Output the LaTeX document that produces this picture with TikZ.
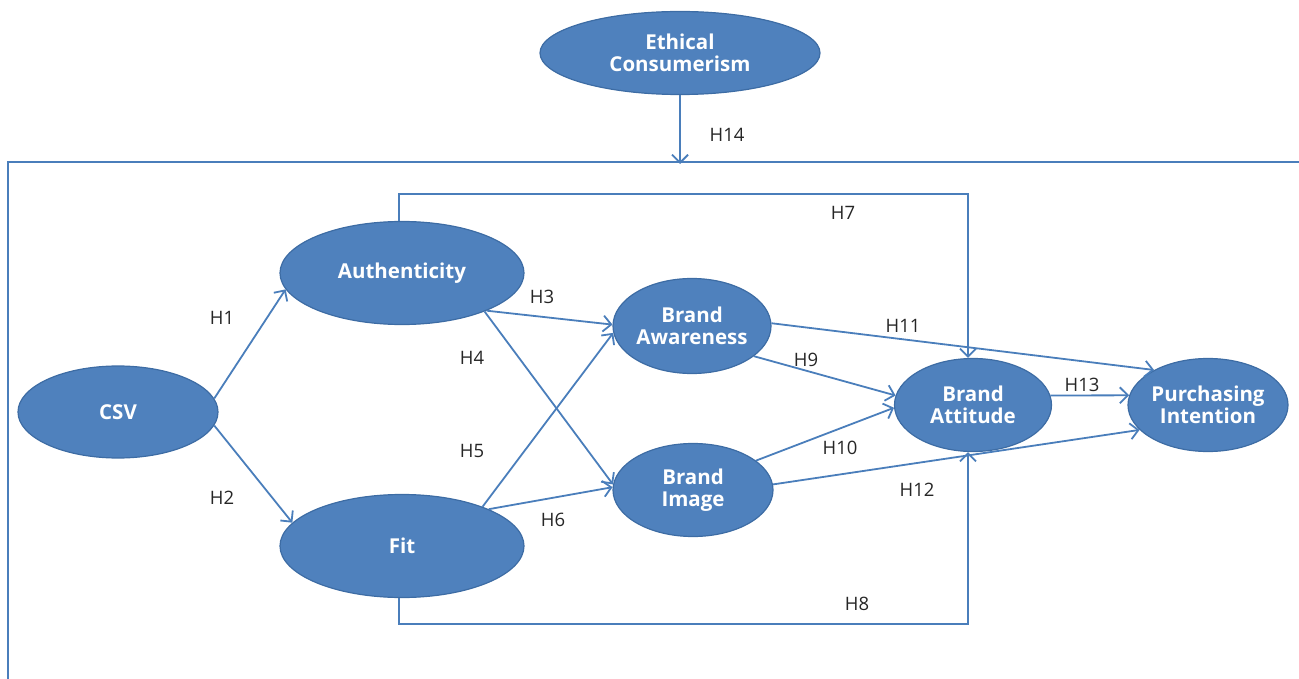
\documentclass[tikz,border=0pt]{standalone}
\usepackage{fontspec}
\setmainfont{Open Sans}
\usetikzlibrary{arrows.meta,shapes.geometric}
\definecolor{fillblue}{HTML}{4F81BD}
\definecolor{edgeblue}{HTML}{3D6CA4}
\definecolor{lineblue}{HTML}{4A7EBB}
\begin{document}
\begin{tikzpicture}[x=1pt,y=-1pt,
  construct/.style={ellipse,draw=edgeblue,line width=1.2pt,fill=fillblue,inner sep=0pt,
    text=white,font=\fontsize{20.5}{22}\selectfont\bfseries,align=center},
  link/.style={draw=lineblue,line width=1.8pt,-{Straight Barb[length=8pt,width=16pt,line width=1.8pt]}},
  border/.style={draw=lineblue,line width=1.8pt},
  hlab/.style={font=\fontsize{18.5}{20}\selectfont,text=black!85}]
\useasboundingbox (0,0) rectangle (1299,679);
% nodes
\node[construct,minimum width=280pt,minimum height=83pt] (ec) at (680,53) {Ethical\\Consumerism};
\node[construct,minimum width=200pt,minimum height=92pt] (csv) at (118,412) {CSV};
\node[construct,minimum width=244pt,minimum height=103pt] (auth) at (402,273) {Authenticity};
\node[construct,minimum width=244pt,minimum height=103pt] (fit) at (402,546) {Fit};
\node[construct,minimum width=158pt,minimum height=95pt] (aw) at (692,326) {Brand\\Awareness};
\node[construct,minimum width=160pt,minimum height=93pt] (img) at (693,490) {Brand\\Image};
\node[construct,minimum width=157pt,minimum height=93pt] (att) at (973,405) {Brand\\Attitude};
\node[construct,minimum width=159pt,minimum height=93pt] (pi) at (1208,405) {Purchasing\\Intention};
% moderating box
\coordinate (boxtl) at (8,162);
\coordinate (boxtr) at (1299,162);
\coordinate (boxbl) at (8,679);
\draw[border] (boxtr) -- (boxtl) -- (boxbl);
\coordinate (boxtop) at (ec.south |- boxtl);
\draw[link] (ec.south) -- ([yshift=-2pt]boxtop);
\node[hlab] (h14) at (727,135) {H14};
% paths
\draw[link] (csv.8) -- (auth.188);
\draw[link] (csv.-8) -- (fit.168);
\draw[link] (auth.-24) -- (aw.179);
\draw[link] (auth.-25) -- (img.176);
\draw[link] (fit.26) -- (aw.185);
\draw[link] (fit.23) -- (img.178);
\draw[link] (aw.-26) -- (att.173);
\draw[link] (img.25) -- (att.182);
\draw[link] (aw.2) -- (pi.147);
\draw[link] (img.4) -- (pi.200);
\draw[link] (att.7) -- (pi.173);
\coordinate (top7) at (0,194);
\coordinate (bot8) at (0,624);
\coordinate (a7) at ([xshift=-3pt]auth.north);
\coordinate (f8) at ([xshift=-3pt]fit.south);
\coordinate (t7) at ([xshift=-5pt]att.north);
\coordinate (b8) at ([xshift=-5pt]att.south);
\draw[link] (a7) -- (a7 |- top7) -- (t7 |- top7) -- (t7);
\draw[link] (f8) -- (f8 |- bot8) -- (b8 |- bot8) -- (b8);
% labels
\node[hlab] (h1) at (222,318) {H1};
\node[hlab] (h2) at (222,498) {H2};
\node[hlab] (h3) at (542,297) {H3};
\node[hlab] (h4) at (472,358) {H4};
\node[hlab] (h5) at (472,451) {H5};
\node[hlab] (h6) at (553,520) {H6};
\node[hlab] (h7) at (843,213) {H7};
\node[hlab] (h8) at (857,604) {H8};
\node[hlab] (h9) at (806,360) {H9};
\node[hlab] (h10) at (840,448) {H10};
\node[hlab] (h11) at (903,326) {H11};
\node[hlab] (h12) at (917,490) {H12};
\node[hlab] (h13) at (1082,385) {H13};
\end{tikzpicture}
\end{document}
